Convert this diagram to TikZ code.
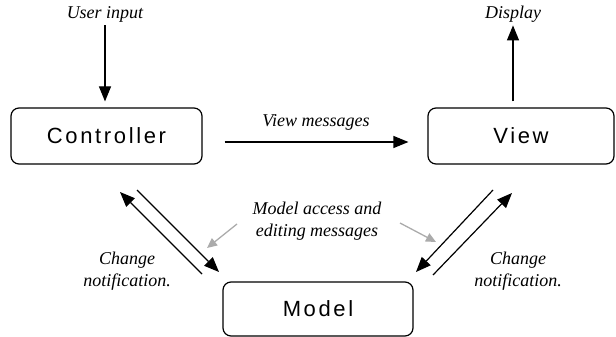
\documentclass[tikz,border=0pt]{standalone}
\usepackage{fontspec}
\setmainfont{Liberation Serif}
\newfontfamily\boxfont[LetterSpace=12]{Liberation Sans}
\usetikzlibrary{arrows.meta}

\tikzset{
  part/.style={draw,line width=1.2pt,rounded corners=8pt,inner sep=0pt,
    font=\boxfont\fontsize{22}{26}\selectfont},
  note/.style={font=\itshape\fontsize{18}{22}\selectfont,align=center,inner sep=0pt},
  arr/.style={line width=1.2pt,-{Triangle[length=15pt,width=12pt]}},
  hint/.style={line width=1.3pt,draw=black!33,-{Triangle[length=10pt,width=9pt]}}
}

\begin{document}
\begin{tikzpicture}[x=1pt,y=-1pt]
\useasboundingbox (0,0) rectangle (616,337);

\node[part,minimum width=191pt,minimum height=56pt] (ctl) at (106.5,136) {Controller};
\node[part,minimum width=186pt,minimum height=56pt] (view) at (521,136) {View};
\node[part,minimum width=190pt,minimum height=54pt] (model) at (318,309) {Model};

\node[note] (uin) at (105,14) {User input};
\node[note] (disp) at (513,14) {Display};
\node[note] (vmsg) at (316,122) {View messages};
\node[note] (macc) at (317,221) {Model access and\\editing messages};
\node[note] (lchg) at (127,271) {Change\\notification.};
\node[note] (rchg) at (518,271) {Change\\notification.};

% free ends of the diagonal arrows
\coordinate (la1) at (202,274);
\coordinate (la2) at (120,192);
\coordinate (lb1) at (137,190);
\coordinate (lb2) at (219,272);
\coordinate (ra1) at (493,190);
\coordinate (ra2) at (416,272);
\coordinate (rb1) at (433,275);
\coordinate (rb2) at (512,193);
\coordinate (lt) at (237,224);
\coordinate (lh) at (207,248);
\coordinate (rt) at (400,223);
\coordinate (rh) at (436,242);

\path[draw,arr,shorten <=3pt,shorten >=6pt] (uin.south) -- (uin.south |- ctl.north);
\path[draw,arr,shorten <=6pt,shorten >=3pt] (disp.south |- view.north) -- (disp.south);
\path[draw,arr,shorten <=22pt,shorten >=19pt] ([yshift=-6pt]ctl.east) -- ([yshift=-6pt]view.west);

\path[draw,arr] (la1) -- (la2);
\path[draw,arr] (lb1) -- (lb2);
\path[draw,arr] (ra1) -- (ra2);
\path[draw,arr] (rb1) -- (rb2);

\path[draw,hint] (lt) -- (lh);
\path[draw,hint] (rt) -- (rh);
\end{tikzpicture}
\end{document}
